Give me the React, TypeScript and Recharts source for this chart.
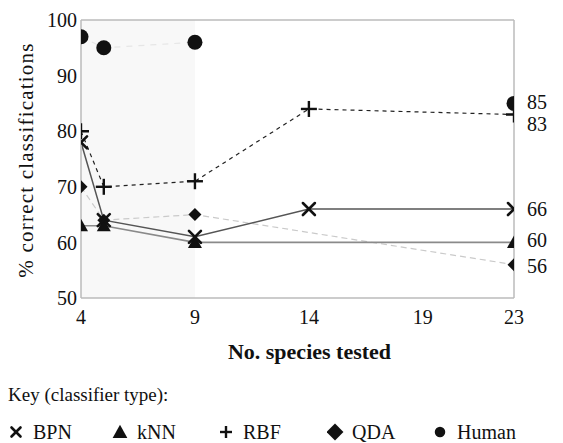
import React from 'react';
import { LineChart, Line, XAxis, YAxis, ReferenceLine, ReferenceArea, LabelList } from 'recharts';

const speciesTested = [4, 5, 9, 14, 23];
const bpn = [78, 64, 61, 66, 66];
const knn = [63, 63, 60, null, 60];
const rbf = [80, 70, 71, 84, 83];
const qda = [70, 64, 65, null, 56];
const human = [97, 95, 96, null, 85];
const xTicks = [4, 9, 14, 19, 23];
const yTicks = [50, 60, 70, 80, 90, 100];

const data = speciesTested.map((x, i) => ({
  x,
  BPN: bpn[i],
  kNN: knn[i],
  RBF: rbf[i],
  QDA: qda[i],
  Human: human[i],
}));

const FONT = '"Liberation Serif", "Times New Roman", serif';
const X_MIN = speciesTested[0];
const X_MAX = speciesTested[speciesTested.length - 1];

type Kind = 'x' | 'tri' | 'plus' | 'dia' | 'circle';

function Marker({ kind, cx, cy, k = 1 }: { kind: Kind; cx: number; cy: number; k?: number }) {
  if (kind === 'x') {
    const s = 6 * k;
    return (
      <g stroke="#111" strokeWidth={2.6} strokeLinecap="round">
        <line x1={cx - s} y1={cy - s} x2={cx + s} y2={cy + s} />
        <line x1={cx - s} y1={cy + s} x2={cx + s} y2={cy - s} />
      </g>
    );
  }
  if (kind === 'tri') {
    const s = 7 * k;
    return <polygon points={`${cx},${cy - s} ${cx + s},${cy + s * 0.8} ${cx - s},${cy + s * 0.8}`} fill="#111" />;
  }
  if (kind === 'plus') {
    const s = 8 * k;
    return (
      <g stroke="#111" strokeWidth={2.4}>
        <line x1={cx - s} y1={cy} x2={cx + s} y2={cy} />
        <line x1={cx} y1={cy - s} x2={cx} y2={cy + s} />
      </g>
    );
  }
  if (kind === 'dia') {
    const s = 6.5 * k;
    return <polygon points={`${cx},${cy - s} ${cx + s},${cy} ${cx},${cy + s} ${cx - s},${cy}`} fill="#111" />;
  }
  return <circle cx={cx} cy={cy} r={7.5 * k} fill="#111" />;
}

const makeDot = (kind: Kind, name: string) => (props: any) => {
  const { cx, cy, index, value, payload } = props;
  const key = `${name}-dot-${index}`;
  if (cx == null || cy == null || value == null) return <g key={key} />;
  const px = payload ? payload.x : null;
  const edge = px === X_MIN ? 'L' : px === X_MAX ? 'R' : '';
  if (!edge) {
    return (
      <g key={key}>
        <Marker kind={kind} cx={cx} cy={cy} />
      </g>
    );
  }
  // half marker: the plot frame cuts markers that sit on the first / last column
  const x0 = edge === 'L' ? cx : cx - 20;
  return (
    <svg key={key} x={x0} y={cy - 20} width={20} height={40} overflow="hidden">
      <Marker kind={kind} cx={cx - x0} cy={20} />
    </svg>
  );
};

const makeLabel = (dy: number) => (props: any) => {
  const { x, y, value, index } = props;
  if (index !== speciesTested.length - 1 || value == null) return null;
  return (
    <text x={x + 13} y={y + dy} dominantBaseline="central" fontFamily={FONT} fontSize={20} fill="#111">
      {value}
    </text>
  );
};

const YLabel = (props: any) => {
  const vb = props.viewBox || { x: 21, y: 20, width: 60, height: 278 };
  const cx = vb.x + 5;
  const cy = vb.y + vb.height / 2 + 1;
  return (
    <text x={cx} y={cy} transform={`rotate(-90, ${cx}, ${cy})`} textAnchor="middle" dominantBaseline="central" fontFamily={FONT} fontSize={21} letterSpacing={1.2} fill="#111">
      % correct classifications
    </text>
  );
};

const legendItems: { kind: Kind; label: string; left: number; k: number }[] = [
  { kind: 'x', label: 'BPN', left: 8, k: 0.75 },
  { kind: 'tri', label: 'kNN', left: 112, k: 1.05 },
  { kind: 'plus', label: 'RBF', left: 218, k: 0.75 },
  { kind: 'dia', label: 'QDA', left: 327, k: 1.3 },
  { kind: 'circle', label: 'Human', left: 432, k: 0.7 },
];

export default function App() {
  return (
    <div style={{ position: 'absolute', left: 0, top: 0, width: 563, height: 443, background: '#fff', fontFamily: FONT }}>
      <LineChart width={563} height={443} data={data} margin={{ top: 20, right: 49, bottom: 115, left: 21 }}>
        <ReferenceArea x1={4} x2={9} y1={50} y2={100} fill="#f8f8f8" fillOpacity={1} stroke="none" />
        <XAxis
          dataKey="x"
          type="number"
          domain={[4, 23]}
          ticks={xTicks}
          allowDataOverflow
          axisLine={{ stroke: '#bbb', strokeWidth: 1.5 }}
          tickLine={false}
          tick={{ fontFamily: FONT, fontSize: 20, fill: '#111' }}
          tickMargin={6}
          height={30}
          label={{ value: 'No. species tested', position: 'insideBottom', offset: -31, dx: 12, fontFamily: FONT, fontSize: 22, fontWeight: 'bold', fill: '#111' }}
        />
        <YAxis
          type="number"
          domain={[50, 100]}
          ticks={yTicks}
          allowDataOverflow
          axisLine={{ stroke: '#bbb', strokeWidth: 1.5 }}
          tickLine={false}
          tickSize={0}
          tick={{ fontFamily: FONT, fontSize: 20, fill: '#111' }}
          tickMargin={4}
          width={60}
          label={<YLabel />}
        />
        <ReferenceLine y={100} stroke="#bbb" strokeWidth={1.5} />
        <ReferenceLine x={23} stroke="#bbb" strokeWidth={1.5} />
        <Line dataKey="Human" stroke="#e6e6e6" strokeWidth={1.2} strokeDasharray="6 6" isAnimationActive={false} dot={makeDot('circle', 'Human')} activeDot={false}>
          <LabelList dataKey="Human" content={makeLabel(-1)} />
        </Line>
        <Line dataKey="QDA" stroke="#cacaca" strokeWidth={1.2} strokeDasharray="6 4" connectNulls isAnimationActive={false} dot={makeDot('dia', 'QDA')} activeDot={false}>
          <LabelList dataKey="QDA" content={makeLabel(1)} />
        </Line>
        <Line dataKey="kNN" stroke="#8a8a8a" strokeWidth={1.6} connectNulls isAnimationActive={false} dot={makeDot('tri', 'kNN')} activeDot={false}>
          <LabelList dataKey="kNN" content={makeLabel(-2)} />
        </Line>
        <Line dataKey="BPN" stroke="#555" strokeWidth={1.5} connectNulls isAnimationActive={false} dot={makeDot('x', 'BPN')} activeDot={false}>
          <LabelList dataKey="BPN" content={makeLabel(0)} />
        </Line>
        <Line dataKey="RBF" stroke="#222" strokeWidth={1.2} strokeDasharray="4 4" connectNulls isAnimationActive={false} dot={makeDot('plus', 'RBF')} activeDot={false}>
          <LabelList dataKey="RBF" content={makeLabel(9)} />
        </Line>
      </LineChart>
      <div style={{ position: 'absolute', left: 8, top: 384, fontSize: 19, lineHeight: '22px', color: '#111', whiteSpace: 'nowrap' }}>
        Key (classifier type):
      </div>
      {legendItems.map((it) => (
        <div key={it.label} style={{ position: 'absolute', left: it.left, top: 421, height: 22, display: 'flex', alignItems: 'center', fontSize: 20, color: '#111', whiteSpace: 'nowrap' }}>
          <svg width={20} height={20} style={{ marginRight: 5 }}>
            <Marker kind={it.kind} cx={8} cy={10} k={it.k} />
          </svg>
          <span>{it.label}</span>
        </div>
      ))}
    </div>
  );
}
